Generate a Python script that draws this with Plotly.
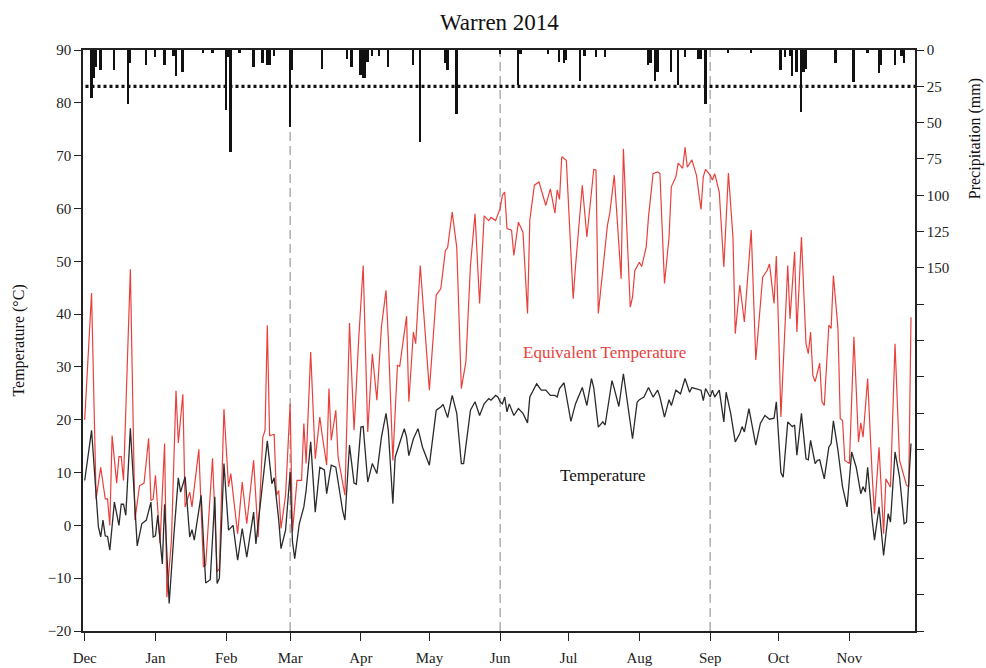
import pandas as pd
import plotly.graph_objects as go

# ---------------- data ----------------
START = "2013-12-01"   # day 0 of the series

# Equivalent temperature (°C): (day since 1 Dec 2013, value)
teq_points = [
    (0, 20), (3, 44), (5, 5), (7, 11), (9, 5), (10, 5), (11, 0), (12, 17), (14, 8), (15, 13),
    (16, 13), (17, 8.5), (20, 48.5), (22, 1), (24, 7.5), (26, 8), (28, 16.5), (29, 4.7), (30, 5),
    (31, 9.5), (33, -3.4), (35, 15.5), (36, -13.6), (38, -2.8), (40, 25.5), (41, 15.6), (43, 24.8),
    (44, 3.5), (46, 6.3), (47, 3.5), (50, 14.4), (52, -7.9), (53, -7.5), (56, 12.7), (58, -8.8),
    (59, -8.2), (61, 22), (63, 7.3), (64, 9.8), (67, -1.6), (69, 8.2), (71, 0.3), (74, 12.3),
    (76, -2.2), (78, 16.6), (79, 18), (80, 37.9), (81, 17), (83, 17.2), (84, 5.7), (85, 6.6),
    (86, -0.6), (88, 5.7), (90, 23), (91, -1.3), (93, 8.5), (95, 8.5), (96, 19.3), (97, 11.7),
    (99, 32.8), (101, 12.6), (103, 20.5), (104, 17.2), (106, 11.4), (107, 25.9), (108, 16.1),
    (110, 21.8), (111, 12.9), (114, 5.7), (116, 38.3), (118, 18), (120, 35), (122, 49.2),
    (124, 17.7), (126, 32.5), (128, 23.7), (130, 37.6), (132, 44.5), (133, 35.6), (135, 12.3),
    (137, 30.3), (138, 30.1), (141, 39.6), (142, 23.4), (144, 36.6), (145, 34.4), (147, 49.2),
    (151, 25.6), (154, 43.6), (156, 44.8), (158, 52), (159, 52.6), (161, 59.3), (163, 52.6),
    (165, 25.9), (167, 31), (169, 49.2), (171, 59), (173, 42), (175, 58.6), (177, 57.7),
    (178, 58.3), (180, 57.7), (181, 58.9), (182, 60), (183, 62.5), (184, 63.1), (185, 56.2),
    (187, 55.9), (188, 51.1), (190, 57.4), (192, 55.5), (194, 40.1), (195, 57.8), (197, 64.4),
    (199, 65), (202, 60.6), (204, 63.7), (206, 59.1), (207, 63.5), (208, 61.7), (209, 69.8),
    (211, 69.1), (214, 42.9), (215, 48.9), (218, 64.4), (220, 54.6), (223, 67.4), (224, 67.3),
    (225, 40.1), (229, 56.8), (230, 59), (232, 66.3), (235, 46.7), (236, 71.3), (239, 41.3),
    (240, 43.2), (241, 48.2), (243, 49.8), (244, 49), (246, 52.7), (247, 58.4), (249, 66.6),
    (251, 66.9), (252, 66.6), (254, 45.8), (256, 54.6), (257, 64.1), (259, 66), (260, 68.6),
    (262, 67.6), (263, 71.6), (264, 67.8), (266, 69.2), (268, 66.3), (270, 59.8), (271, 66),
    (272, 67.4), (274, 66.3), (275, 65.4), (276, 66.6), (278, 63.1), (280, 48.9), (282, 66.7),
    (284, 54.6), (285, 36.3), (287, 45.5), (289, 38.5), (290, 44.5), (292, 55.9), (294, 31.3),
    (297, 47), (299, 48.3), (300, 49.5), (302, 42), (303, 51), (304, 37), (305, 20.5),
    (308, 49.2), (309, 39.1), (311, 51.8), (312, 36.6), (314, 54.6), (316, 34.4), (317, 32.5),
    (318, 36.6), (319, 28.4), (320, 27.2), (322, 30.7), (323, 23.4), (324, 22.7), (326, 37.9),
    (327, 37.3), (328, 47.3), (330, 37.3), (331, 20.2), (332, 19.9), (333, 12.3), (335, 11.7),
    (337, 35.7), (339, 15.8), (340, 19.4), (341, 16.7), (343, 27.8), (345, 9.5), (346, 2.2),
    (348, 14.8), (350, -1.6), (351, 8.8), (353, 7.2), (355, 34.4), (357, 12.3), (360, 7.6),
    (361, 7.3), (362, 39.4),
]

# Air temperature (°C): (day since 1 Dec 2013, value)
t_points = [
    (0, 8.5), (1, 11.7), (3, 18), (6, -0.3), (7, -2.2), (8, 1), (9, -2), (10, -2.1), (11, -4.7),
    (13, 4.4), (15, 0), (16, 4), (17, 4), (18, 1.9), (20, 18.4), (23, -3.9), (25, 0.3), (27, 1),
    (29, 4.4), (30, -2.2), (31, -2), (32, 1.9), (34, -7.3), (35, 4), (37, -14.8), (39, -2.2),
    (41, 9), (42, 6.3), (44, 9.2), (46, -2.2), (47, -0.8), (48, -2.8), (51, 5.7), (53, -10.9),
    (55, -10.3), (57, 5.4), (58, -11), (59, -10), (61, 11.7), (63, -0.9), (65, 0), (67, -6.6),
    (69, -0.6), (71, -6), (74, 2.5), (75, -3.5), (80, 16), (82, 7.9), (83, 9), (85, 1),
    (86, -4.4), (88, -0.9), (90, 10.1), (91, -3), (92, -6.3), (94, 0.3), (96, 3.5), (97, 6.6),
    (99, 15.8), (101, 2.5), (103, 11), (105, 10.5), (106, 6), (108, 11.4), (110, 11), (113, 2.8),
    (114, 1), (116, 15.2), (118, 8), (119, 7.8), (121, 18.6), (122, 18.7), (124, 8.2),
    (126, 11.7), (128, 9.8), (130, 16.7), (132, 21.2), (133, 18), (135, 4.1), (136, 12.9),
    (138, 15.8), (140, 18.3), (141, 16.7), (142, 13.2), (144, 16.4), (146, 18.3), (148, 14.8),
    (151, 11.4), (154, 21.8), (156, 22.4), (157, 22.9), (159, 20.4), (161, 24.6), (163, 21.2),
    (165, 11.7), (166, 11.7), (169, 21.8), (171, 23.4), (173, 20.8), (175, 23), (177, 24),
    (178, 23.7), (180, 24.6), (181, 24.3), (182, 23.4), (183, 23), (184, 24.3), (185, 21.5),
    (186, 23), (188, 20.8), (190, 22.1), (192, 21.2), (194, 19.4), (195, 24.3), (198, 26.8),
    (200, 25.6), (202, 25.6), (204, 24.6), (206, 24.6), (207, 24.3), (208, 25.9), (210, 27),
    (213, 19.7), (215, 23), (218, 26.1), (220, 22.7), (222, 27.8), (223, 26.1), (225, 18.6),
    (227, 19.6), (228, 19), (231, 27.4), (232, 25.9), (234, 22.5), (236, 28.7), (239, 19.6),
    (240, 16.4), (242, 23.3), (243, 23.8), (245, 24.3), (247, 26.1), (249, 24.3), (251, 25.6),
    (252, 24.3), (254, 20.5), (256, 23.8), (257, 22.7), (259, 25.6), (261, 24.9), (263, 27.8),
    (265, 25.2), (266, 26.1), (268, 25.9), (270, 25.6), (271, 23.6), (272, 25.9), (274, 24.3),
    (275, 25.6), (276, 24.3), (278, 25.6), (280, 19.6), (281, 25.2), (283, 21.2), (285, 15.8),
    (287, 17.4), (288, 18.7), (289, 17.7), (291, 22.1), (294, 15.2), (296, 19.3), (298, 20.8),
    (300, 20.1), (302, 20.3), (303, 23.4), (305, 10), (306, 9.1), (308, 19.6), (310, 18.7),
    (311, 19), (312, 13.3), (314, 21.2), (316, 12.6), (317, 12.4), (318, 16.1), (320, 11.7),
    (321, 12.3), (322, 12.4), (324, 8.8), (326, 14.8), (327, 15.5), (328, 19.8), (330, 14.2),
    (332, 7.3), (334, 3.5), (336, 13.9), (338, 11), (340, 6), (341, 7.3), (342, 6.3), (343, 11),
    (345, 1), (346, -2.8), (348, 3.5), (350, -5.7), (352, 2.2), (353, 0.6), (355, 13.9),
    (357, 9.1), (359, 0.3), (360, 0.6), (362, 15.5),
]

# Daily precipitation (mm): (day since 1 Dec 2013, value)
precip_points = [
    (3, 33), (4, 19), (5, 12), (7, 14), (13, 14), (19, 37), (20, 9), (27, 10), (31, 5), (35, 10),
    (39, 4), (40, 18), (43, 15), (52, 2), (56, 2), (62, 41), (63, 5), (64, 70), (68, 2), (74, 12),
    (78, 9), (80, 10), (81, 10), (83, 4), (90, 53), (91, 14), (104, 13), (115, 6), (117, 12),
    (121, 17), (122, 19), (123, 19), (124, 8), (126, 4), (129, 4), (133, 12), (144, 10),
    (147, 63), (158, 9), (159, 14), (163, 44), (182, 3), (190, 24), (191, 3), (203, 3), (208, 8),
    (210, 9), (211, 7), (217, 21), (219, 4), (224, 5), (228, 5), (247, 10), (248, 9), (250, 21),
    (251, 15), (257, 15), (260, 24), (263, 5), (269, 6), (270, 6), (272, 37), (282, 2), (292, 2),
    (305, 14), (307, 5), (309, 4), (310, 18), (312, 15), (314, 43), (315, 15), (316, 13),
    (329, 9), (337, 22), (343, 2), (348, 16), (349, 10), (355, 10), (358, 4), (359, 9),
]

precip_threshold = 25          # mm, dotted reference line
season_marks = ["2014-03-01", "2014-06-01", "2014-09-01"]
temp_ticks = list(range(-20, 91, 10))
precip_ticks = list(range(0, 401, 25))
precip_labelled_max = 150

# ---------------- helpers ----------------
start = pd.Timestamp(START)


def to_dates(days):
    return [start + pd.Timedelta(days=d) for d in days]


teq_day, teq_val = zip(*teq_points)
t_day, t_val = zip(*t_points)
p_day, p_val = zip(*precip_points)

SERIF = "Liberation Serif, Times New Roman, serif"
RED = "#e8413c"
DARK = "#2b2b2b"

fig = go.Figure()

fig.add_trace(go.Bar(
    x=to_dates(p_day), y=list(p_val), yaxis="y2",
    marker=dict(color="#111111", line=dict(width=0)),
    width=0.85 * 86400000, showlegend=False,
))

fig.add_trace(go.Scatter(
    x=to_dates(teq_day), y=list(teq_val), mode="lines",
    line=dict(color=RED, width=1.2), showlegend=False,
))
fig.add_trace(go.Scatter(
    x=to_dates(t_day), y=list(t_val), mode="lines",
    line=dict(color=DARK, width=1.3), showlegend=False,
))

shapes = []
for d in season_marks:
    shapes.append(dict(type="line", xref="x", yref="paper", x0=d, x1=d, y0=0, y1=1,
                       line=dict(color="#9a9a9a", width=1.2, dash="9px,5px"), layer="below"))
shapes.append(dict(type="line", xref="paper", yref="y2", x0=0.003, x1=1, y0=precip_threshold,
                   y1=precip_threshold, line=dict(color="#111111", width=3.2, dash="3px,3px")))

tick_font = dict(family=SERIF, size=15, color="#222222")

fig.update_layout(
    width=986, height=668,
    margin=dict(l=83, r=71, t=50, b=37),
    plot_bgcolor="white", paper_bgcolor="white",
    bargap=0,
    shapes=shapes,
    xaxis=dict(
        type="date", range=["2013-11-30 06:00", "2014-11-29 18:00"],
        tick0=START, dtick="M1", tickformat="%b",
        ticks="outside", ticklen=8, tickwidth=1.3, tickcolor="#222",
        showline=True, linecolor="#222", linewidth=1.5, mirror=True,
        showgrid=False, zeroline=False, tickfont=tick_font, ticklabelstandoff=4,
        automargin=False,
    ),
    yaxis=dict(
        range=[-20, 90], tickvals=temp_ticks,
        ticks="outside", ticklen=7, tickwidth=1.3, tickcolor="#222",
        showline=True, linecolor="#222", linewidth=1.5,
        showgrid=False, zeroline=False, tickfont=tick_font, automargin=False,
    ),
    yaxis2=dict(
        overlaying="y", side="right", range=[400, 0],
        tickvals=precip_ticks,
        ticktext=[str(v) if v <= precip_labelled_max else "" for v in precip_ticks],
        ticks="outside", ticklen=7, tickwidth=1.3, tickcolor="#222",
        showline=True, linecolor="#222", linewidth=1.5,
        showgrid=False, zeroline=False, tickfont=tick_font, automargin=False,
    ),
    annotations=[
        dict(text="Warren 2014", xref="paper", yref="paper", x=0.5, y=1.048,
             showarrow=False, font=dict(family=SERIF, size=23, color="#111"),
             xanchor="center", yanchor="middle"),
        dict(text="Temperature (°C)", xref="paper", yref="paper", x=-0.078, y=0.5,
             textangle=-90, showarrow=False, font=dict(family=SERIF, size=16, color="#111"),
             xanchor="center", yanchor="middle"),
        dict(text="Precipitation (mm)", xref="paper", yref="paper", x=1.072, y=0.848,
             textangle=-90, showarrow=False, font=dict(family=SERIF, size=16, color="#111"),
             xanchor="center", yanchor="middle"),
        dict(text="Equivalent Temperature", xref="paper", yref="paper", x=0.627, y=0.4785,
             showarrow=False, font=dict(family=SERIF, size=17, color=RED),
             xanchor="center", yanchor="middle"),
        dict(text="Temperature", xref="paper", yref="paper", x=0.625, y=0.2668,
             showarrow=False, font=dict(family=SERIF, size=17, color="#111"),
             xanchor="center", yanchor="middle"),
    ],
)

fig.write_html("out.html")
